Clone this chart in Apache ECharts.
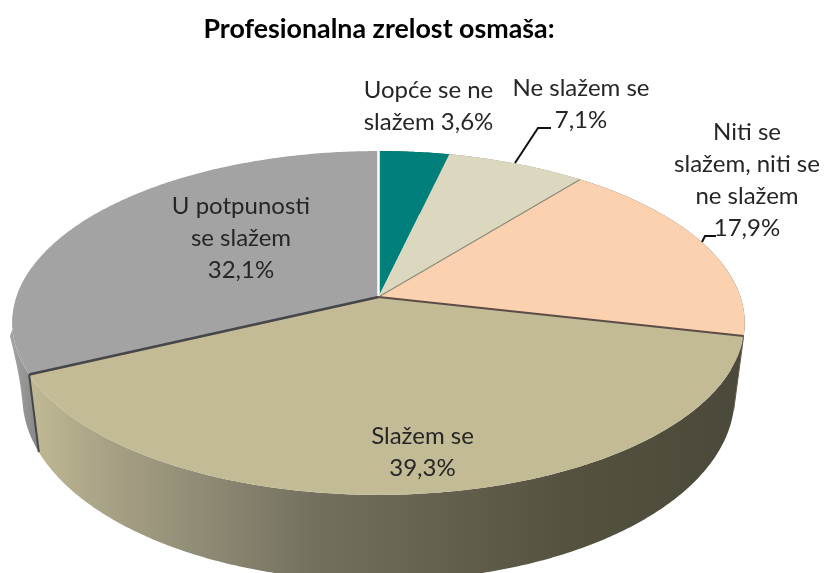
<!DOCTYPE html>
<html>
<head>
<meta charset="utf-8">
<style>html,body{margin:0;padding:0;background:#fff}#c{width:827px;height:573px}</style>
<script src="https://cdn.jsdelivr.net/npm/echarts@6/dist/echarts.min.js"></script>
</head>
<body>
<div id="c"></div>
<script>
// Data
var titleText = 'Profesionalna zrelost osmaša:';
var categories = ['Uopće se ne slažem', 'Ne slažem se', 'Niti se slažem, niti se ne slažem', 'Slažem se', 'U potpunosti se slažem'];
var values = [3.6, 7.1, 17.9, 39.3, 32.1];
var labelTemplates = ['Uopće se ne\nslažem {v}', 'Ne slažem se\n{v}', 'Niti se\nslažem, niti se\nne slažem\n{v}', 'Slažem se\n{v}', 'U potpunosti\nse slažem\n{v}'];

// Styles and layout (kept apart from the data)
var faceColors = ['#007f7b', '#dcd8c0', '#fbd1b0', '#c3bb95', '#a3a3a3'];
var wallColors = ['#005f5c', '#8f8c7a', '#5d4f45', null, '#8e8e8e'];
var edgeColors = ['#ffffff', null, '#8a8a78', '#5c4c46', '#45454a'];
var edgeWidths = [2.5, 0, 1.2, 2.2, 2.6];
var labelCenters = [[428.5, 106], [581, 104], [747, 180], [422.5, 452], [241, 238]];
var leaderLines = [null, [[515, 163], [538, 128], [551, 128]], [[702, 242], [705, 236], [716, 236]], null, null];

// Projection of the round pie onto the page (perspective view from above)
var P = {cx: 378.5, cy: 297, A: 362, B: 168, k: 0.151, A2: 352, drop: 72, dropK: 12};
function topPt(a) {
  var u = Math.sin(a), v = -Math.cos(a), d = 1 - P.k * v;
  return [P.cx + P.A * u / d, P.cy + P.B * v / d];
}
// The lower rim is pulled in less on the far left, where the wall starts higher up
function lowerHalfWidth(u, v) {
  if (u >= 0 || v >= 0.2) return P.A2;
  return P.A2 + 225 * (0.2 - v) * (0.2 - v);
}
function lowPt(a) {
  var u = Math.sin(a), v = -Math.cos(a), d = 1 - P.k * v;
  return [P.cx + lowerHalfWidth(u, v) * u / d, P.cy + P.B * v / d + P.drop + P.dropK * v / d];
}
function arcPts(fn, a0, a1) {
  var pts = [], n = Math.max(2, Math.ceil(Math.abs(a1 - a0) / 0.01));
  for (var i = 0; i <= n; i++) pts.push(fn(a0 + (a1 - a0) * i / n));
  return pts;
}
var total = values.reduce(function (s, x) { return s + x; }, 0);

function renderSlice(params, api) {
  var i = params.dataIndex;
  var start = 0;
  for (var j = 0; j < i; j++) start += values[j];
  var a0 = start / total * 2 * Math.PI;
  var a1 = (start + api.value(0)) / total * 2 * Math.PI;
  var ch = [];

  // outer wall
  var wallFill = wallColors[i] || new echarts.graphic.LinearGradient(30, 0, 740, 0, [
    {offset: 0, color: '#c0b994'},
    {offset: 0.12, color: '#a5a084'},
    {offset: 0.4, color: '#747060'},
    {offset: 0.75, color: '#55523f'},
    {offset: 1, color: '#4b493a'}
  ], true);
  if (i === 4) {
    wallFill = new echarts.graphic.LinearGradient(13, 0, 38, 0, [
      {offset: 0, color: '#a2a2a2'}, {offset: 1, color: '#858585'}
    ], true);
  }
  // the far back of the wall stays hidden behind the top face
  var wallPts = arcPts(topPt, a0, a1).concat(arcPts(lowPt, a1, a0));
  if (i === 4) {
    var end = 2 * Math.PI * 0.78;
    wallPts = arcPts(topPt, a0, end).concat(arcPts(lowPt, end, a0));
  }
  ch.push({
    type: 'polygon', z2: 1,
    shape: {points: wallPts},
    style: {fill: wallFill}
  });

  // top face
  ch.push({
    type: 'polygon', z2: 2,
    shape: {points: [[P.cx, P.cy]].concat(arcPts(topPt, a0, a1))},
    style: {fill: faceColors[i]}
  });

  // radial edge at the start of the slice, and the corner edge of the wall
  if (edgeColors[i]) {
    var s = topPt(a0);
    ch.push({
      type: 'line', z2: 3,
      shape: {x1: P.cx, y1: P.cy, x2: s[0], y2: s[1]},
      style: {stroke: edgeColors[i], lineWidth: edgeWidths[i]}
    });
  }
  if (i === 3 || i === 4) {
    var t1 = topPt(a0), l1 = lowPt(a0);
    ch.push({
      type: 'line', z2: 3,
      shape: {x1: t1[0], y1: t1[1], x2: l1[0], y2: l1[1]},
      style: {stroke: i === 4 ? '#45454a' : '#6b5c56', lineWidth: i === 4 ? 2 : 1}
    });
  }

  // leader line
  if (leaderLines[i]) {
    ch.push({
      type: 'polyline', z2: 4,
      shape: {points: leaderLines[i]},
      style: {stroke: '#111', lineWidth: 2, fill: null}
    });
  }

  // label
  ch.push({
    type: 'text', z2: 5,
    style: {
      text: labelTemplates[i].replace('{v}', String(api.value(0)).replace('.', ',') + '%'),
      x: labelCenters[i][0], y: labelCenters[i][1],
      align: 'center', verticalAlign: 'middle',
      fontFamily: 'Lato', fontSize: 24, lineHeight: 32, fill: '#262626'
    }
  });
  return {type: 'group', children: ch};
}

var chart = echarts.init(document.getElementById('c'), null, {renderer: 'canvas'});
chart.setOption({
  animation: false,
  backgroundColor: '#ffffff',
  title: {
    text: titleText, left: 374, top: 11, textAlign: 'center',
    textStyle: {fontFamily: 'Lato', fontSize: 26.8, fontWeight: 'bold', color: '#000'}
  },
  tooltip: {show: false},
  series: [{
    type: 'custom',
    coordinateSystem: 'none',
    silent: true,
    renderItem: renderSlice,
    data: values.map(function (v, i) { return {name: categories[i], value: [v]}; })
  }]
});
</script>
</body>
</html>
